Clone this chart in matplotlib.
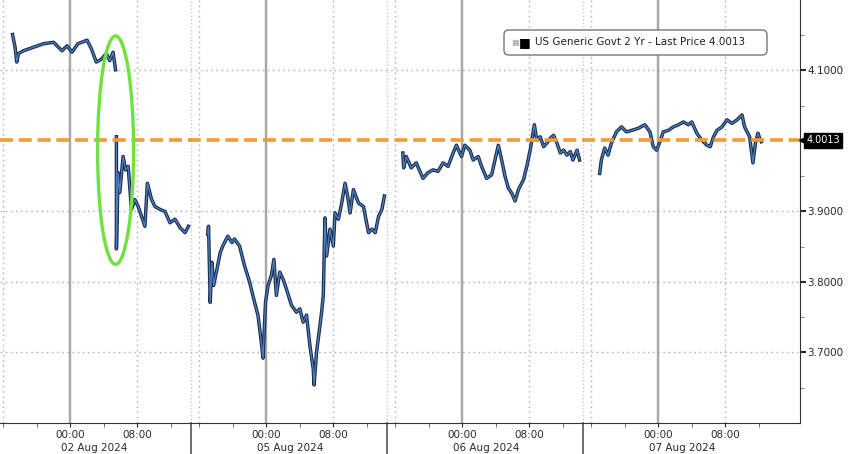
import numpy as np
import matplotlib.pyplot as plt
import matplotlib.transforms as mtransforms
from matplotlib.patches import Ellipse, FancyBboxPatch

nan = np.nan

# intraday 2y yield, hours relative to midnight of each session date
session_dates = ['02 Aug 2024', '05 Aug 2024', '06 Aug 2024', '07 Aug 2024']

aug02_hours = [-6.9, -6.6, -6.4, -6.2, -5.6, -4.4, -3.2, -2.0, -1.0, -0.4,
               0.2, 0.9, 2.0, 2.5, 3.1, 3.7, 4.3, 4.7, 5.1, 5.4,
               5.45, 5.5, 5.5, 5.7, 5.9, 6.3, 6.6, 6.9, 7.3, 7.7, 8.1, 8.5, 8.9,
               9.2, 9.7, 10.1, 10.7, 11.3, 11.9, 12.5, 13.1, 13.7, 14.1]
aug02_yield = [4.151, 4.133, 4.112, 4.124, 4.128, 4.133, 4.138, 4.140, 4.128, 4.135,
               4.126, 4.138, 4.143, 4.131, 4.112, 4.116, 4.124, 4.114, 4.126, 4.101,
               nan, 4.006, 3.847, 3.955, 3.927, 3.978, 3.959, 3.964, 3.903, 3.917, 3.907, 3.893, 3.879,
               3.940, 3.917, 3.907, 3.903, 3.900, 3.884, 3.889, 3.877, 3.870, 3.879]

aug05_hours = [-7.0, -6.9, -6.7, -6.5, -6.3, -5.9, -5.5, -5.2, -4.6, -4.1,
               -3.8, -3.2, -2.6, -2.0, -1.4, -1.0, -0.6, -0.4, -0.1, 0.2,
               0.6, 0.9, 1.2, 1.6, 2.0, 2.4, 3.0, 3.6, 4.0, 4.4,
               4.8, 5.2, 5.6, 5.7, 6.0, 6.4, 6.6, 6.8, 7.0, 7.2,
               7.6, 8.0, 8.2, 8.6, 9.0, 9.4, 9.7, 10.0, 10.4, 11.0,
               11.6, 12.2, 12.6, 13.0, 13.4, 13.8, 14.1]
aug05_yield = [3.868, 3.879, 3.771, 3.828, 3.795, 3.818, 3.842, 3.851, 3.865, 3.856,
               3.861, 3.851, 3.823, 3.800, 3.771, 3.753, 3.715, 3.692, 3.771, 3.795,
               3.809, 3.832, 3.781, 3.814, 3.804, 3.790, 3.767, 3.757, 3.762, 3.743,
               3.753, 3.710, 3.677, 3.654, 3.701, 3.738, 3.757, 3.781, 3.891, 3.837,
               3.875, 3.851, 3.898, 3.889, 3.912, 3.940, 3.922, 3.898, 3.931, 3.912,
               3.907, 3.870, 3.875, 3.870, 3.893, 3.903, 3.922]

aug06_hours = [-7.1, -7.0, -6.7, -6.1, -5.5, -4.7, -4.1, -3.5, -2.9, -2.3,
               -1.7, -1.1, -0.7, -0.1, 0.3, 0.9, 1.3, 1.9, 2.3, 2.9,
               3.5, 3.9, 4.3, 4.7, 5.1, 5.5, 5.9, 6.3, 6.7, 7.3,
               7.7, 8.1, 8.6, 8.9, 9.3, 9.7, 10.1, 10.5, 10.9, 11.3,
               11.7, 12.1, 12.5, 12.9, 13.2, 13.7, 14.0]
aug06_yield = [3.983, 3.962, 3.978, 3.962, 3.969, 3.947, 3.955, 3.959, 3.957, 3.969,
               3.964, 3.983, 3.994, 3.978, 3.994, 3.987, 3.973, 3.978, 3.964, 3.947,
               3.952, 3.973, 3.994, 3.973, 3.950, 3.933, 3.926, 3.915, 3.931, 3.945,
               3.964, 3.987, 4.023, 4.001, 4.006, 3.992, 3.997, 4.004, 4.008, 3.997,
               3.983, 3.987, 3.980, 3.985, 3.973, 3.987, 3.973]

aug07_hours = [-7.0, -6.8, -6.4, -6.0, -5.6, -5.0, -4.4, -3.8, -3.2, -2.4,
               -1.6, -1.0, -0.6, -0.2, 0.2, 0.6, 1.2, 1.8, 2.4, 3.0,
               3.6, 4.0, 4.6, 5.2, 5.8, 6.2, 6.6, 7.0, 7.6, 8.2,
               8.8, 9.4, 10.0, 10.3, 10.9, 11.3, 11.6, 11.9, 12.1, 12.3]
aug07_yield = [3.954, 3.973, 3.990, 3.980, 3.997, 4.013, 4.020, 4.013, 4.015, 4.018,
               4.023, 4.013, 3.992, 3.987, 3.999, 4.013, 4.015, 4.020, 4.023, 4.027,
               4.023, 4.027, 4.011, 4.001, 3.994, 3.992, 4.006, 4.015, 4.020, 4.030,
               4.025, 4.030, 4.037, 4.020, 4.006, 3.969, 3.997, 4.011, 4.004, 3.999]

last_price = 4.0013
y_ticks = [3.7, 3.8, 3.9, 4.1]
y_minor = [3.65, 3.75, 3.85, 3.95, 4.05, 4.15]

sessions = [(aug02_hours, aug02_yield), (aug05_hours, aug05_yield),
            (aug06_hours, aug06_yield), (aug07_hours, aug07_yield)]

# compressed time axis: each session is a block, midnight sits 9h into it
SESSION_LEN = 23.4
MIDNIGHT_OFF = 9.0


def to_x(i, hrs):
    return i * SESSION_LEN + MIDNIGHT_OFF + np.asarray(hrs, dtype=float)


fig = plt.figure(figsize=(8.48, 4.54), dpi=100)
ax = fig.add_axes([0, 0.0683, 0.9434, 0.9317])
ax.set_xlim(0.6, 96.12)
ax.set_ylim(3.60, 4.20)

grid_c = '#b5b5b5'
dot = (0, (1.2, 2.5))
for v in y_ticks:
    ax.axhline(v, color=grid_c, lw=1.0, ls=dot, zorder=1)
for i in range(4):
    ax.axvline(to_x(i, 0), color='#a6a6a6', lw=1.7, zorder=1)
    ax.axvline(to_x(i, 8), color=grid_c, lw=1.0, ls=dot, zorder=1)
    ax.axvline(to_x(i, -8), color=grid_c, lw=1.0, ls=dot, zorder=1)

# session separators
blend = mtransforms.blended_transform_factory(ax.transData, ax.transAxes)
for i in range(1, 4):
    xs = i * SESSION_LEN
    ax.axvline(xs, color='#c8c8c8', lw=1.0, ls=(0, (1, 1.5)), zorder=1)
    ax.plot([xs, xs], [0, -0.08], transform=blend, clip_on=False,
            color='#555555', lw=1.2)

# the yield line
for i, (h, y) in enumerate(sessions):
    ax.plot(to_x(i, h), y, color='#1c2c4e', lw=2.5, zorder=4)
    ax.plot(to_x(i, h), y, color='#4d80bf', lw=0.9, zorder=5)

ax.axhline(last_price, color='#f29a35', lw=2.6, ls=(0, (3.6, 1.6)), zorder=6)

# highlight around payrolls drop
ax.add_patch(Ellipse((to_x(0, 5.4), 3.987), width=4.3, height=0.324,
                     fill=False, ec='#6ee23f', lw=2.4, zorder=7))

# axes styling
for s in ['left', 'top']:
    ax.spines[s].set_visible(False)
ax.spines['bottom'].set_color('#333333')
ax.spines['right'].set_color('#333333')

ax.yaxis.tick_right()
ax.set_yticks(y_ticks)
ax.set_yticklabels(['%.4f' % v for v in y_ticks])
ax.set_yticks(y_minor, minor=True)
ax.tick_params(axis='y', which='major', length=4, width=1.5, labelsize=7.5,
               pad=1, colors='#2a2a2a')
ax.tick_params(axis='y', which='minor', length=3, width=0.6, colors='#777777')

major_x, major_lbl, minor_x = [], [], []
for i in range(4):
    major_x += [to_x(i, 0), to_x(i, 8)]
    major_lbl += ['00:00', '08:00']
    minor_x += [to_x(i, -8), to_x(i, -4), to_x(i, 4), to_x(i, 12)]
ax.set_xticks(major_x)
ax.set_xticklabels(major_lbl)
ax.set_xticks(minor_x, minor=True)
ax.tick_params(axis='x', which='major', length=3, width=0.8, labelsize=7.5,
               pad=2, colors='#2a2a2a')
ax.tick_params(axis='x', which='minor', length=3, width=0.6, colors='#555555')

for i, d in enumerate(session_dates):
    ax.text(to_x(i, 2.8), -0.059, d, transform=blend, ha='center', va='center',
            fontsize=7.5, color='#2a2a2a')

# last price tag on the right axis
yblend = mtransforms.blended_transform_factory(ax.transAxes, ax.transData)
ax.plot(1.004, last_price, marker='<', ms=6, color='black', transform=yblend,
        clip_on=False, zorder=8)
ax.text(1.008, last_price, '%.4f' % last_price, transform=yblend, color='white',
        fontsize=7, ha='left', va='center', zorder=9,
        bbox=dict(boxstyle='square,pad=0.25', fc='black', ec='black'))

# legend box
ax.add_patch(FancyBboxPatch((504 / 800, 1 - 55 / 423), 263 / 800, 25 / 423,
                            boxstyle='round,pad=0,rounding_size=0.006',
                            mutation_aspect=800 / 423, transform=ax.transAxes,
                            fc='white', ec='#777777', lw=1.0, zorder=10))
ly = 1 - 42.5 / 423
ax.text(511 / 800, ly, '\u25a0', transform=ax.transAxes, color='#bbbbbb',
        fontsize=6, ha='left', va='center', zorder=11)
ax.text(519 / 800, ly, '\u25a0', transform=ax.transAxes, color='black',
        fontsize=9, ha='left', va='center', zorder=11)
ax.text(535 / 800, ly, 'US Generic Govt 2 Yr - Last Price 4.0013',
        transform=ax.transAxes, color='#222222', fontsize=7.5, ha='left',
        va='center', zorder=11)

fig.savefig('out.png', dpi=100)
